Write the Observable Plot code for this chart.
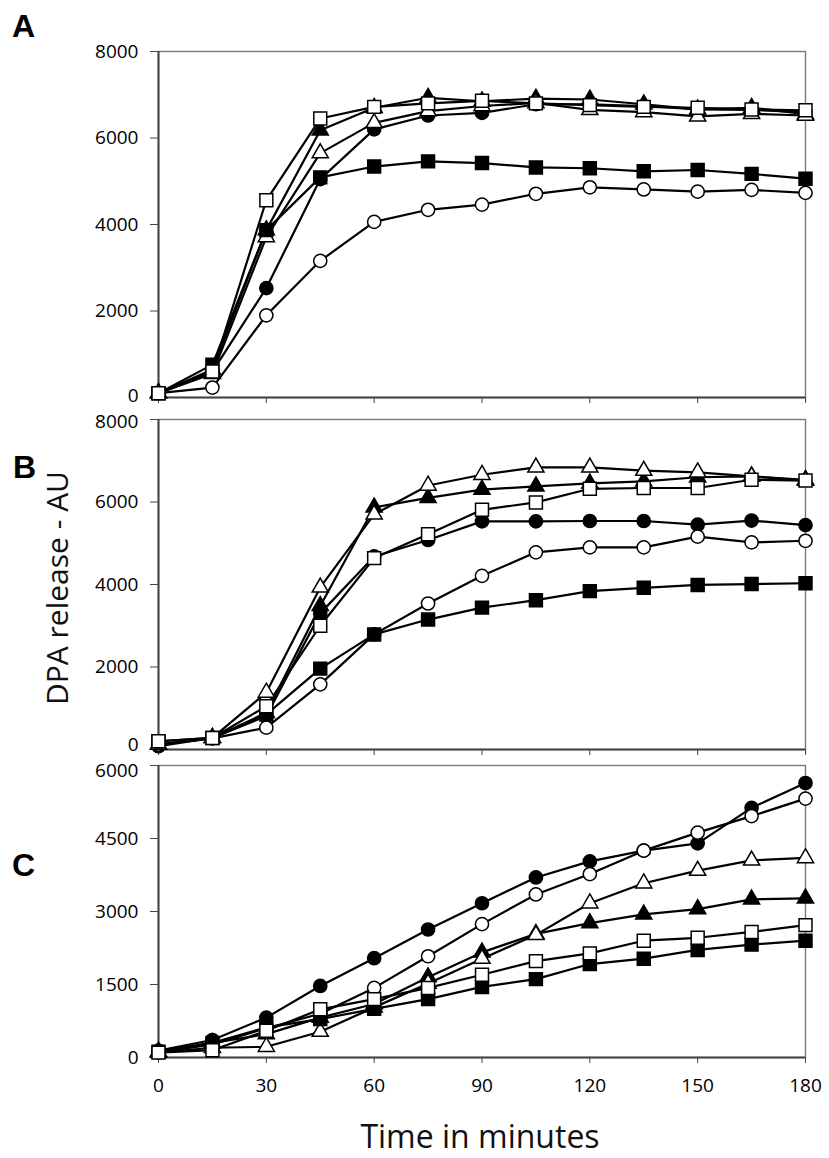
<!DOCTYPE html>
<html>
<head>
<meta charset="utf-8">
<script src="https://cdn.jsdelivr.net/npm/d3@7"></script>
<script src="https://cdn.jsdelivr.net/npm/@observablehq/plot@0.6"></script>
<style>
  html, body { margin: 0; padding: 0; background: #fff; }
  #page { position: relative; width: 829px; height: 1158px; overflow: hidden; }
  #page > svg, #page > figure { position: absolute; left: 0; margin: 0; }
  #overlay { position: absolute; left: 0; top: 0; pointer-events: none; }
</style>
</head>
<body>
<div id="page"></div>
<script>
// ---------- data ----------
const times = [0, 15, 30, 45, 60, 75, 90, 105, 120, 135, 150, 165, 180];
const xTicks = [0, 30, 60, 90, 120, 150, 180];

const A_filledCircle   = [100, 600, 2530, 5050, 6200, 6520, 6580, 6780, 6780, 6740, 6660, 6650, 6600];
const A_openCircle     = [100, 230, 1900, 3160, 4060, 4340, 4460, 4710, 4860, 4810, 4760, 4800, 4730];
const A_filledTriangle = [100, 650, 3870, 6180, 6700, 6930, 6850, 6910, 6890, 6780, 6660, 6700, 6550];
const A_openTriangle   = [100, 550, 3710, 5650, 6350, 6620, 6740, 6810, 6650, 6600, 6500, 6560, 6520];
const A_filledSquare   = [100, 760, 3870, 5090, 5340, 5460, 5420, 5320, 5300, 5230, 5260, 5170, 5060];
const A_openSquare     = [100, 600, 4560, 6450, 6720, 6800, 6860, 6800, 6760, 6720, 6700, 6660, 6640];
const A_yTicks = [0, 2000, 4000, 6000, 8000];

const B_filledCircle   = [80, 280, 810, 3300, 4680, 5080, 5530, 5530, 5540, 5540, 5450, 5550, 5440];
const B_openCircle     = [120, 270, 530, 1580, 2790, 3540, 4210, 4780, 4900, 4900, 5160, 5020, 5060];
const B_filledTriangle = [120, 280, 890, 3480, 5870, 6100, 6300, 6380, 6450, 6500, 6600, 6620, 6540];
const B_openTriangle   = [120, 280, 1380, 3930, 5700, 6400, 6660, 6840, 6840, 6760, 6720, 6620, 6520];
const B_filledSquare   = [200, 280, 850, 1960, 2790, 3150, 3440, 3620, 3840, 3920, 3990, 4010, 4030];
const B_openSquare     = [200, 280, 1050, 3000, 4640, 5220, 5810, 5990, 6320, 6340, 6340, 6540, 6520];
const B_yTicks = [0, 2000, 4000, 6000, 8000];

const C_filledCircle   = [140, 360, 820, 1470, 2040, 2630, 3170, 3700, 4030, 4250, 4400, 5130, 5640];
const C_openCircle     = [100, 270, 600, 900, 1430, 2080, 2740, 3350, 3770, 4250, 4620, 4960, 5320];
const C_filledTriangle = [120, 300, 480, 820, 1100, 1650, 2160, 2540, 2760, 2940, 3050, 3250, 3270];
const C_openTriangle   = [100, 200, 220, 530, 1030, 1520, 2030, 2520, 3170, 3580, 3840, 4050, 4100];
const C_filledSquare   = [120, 300, 620, 790, 1000, 1200, 1450, 1610, 1920, 2030, 2210, 2320, 2400];
const C_openSquare     = [100, 150, 550, 990, 1200, 1430, 1700, 1980, 2140, 2400, 2460, 2580, 2720];
const C_yTicks = [0, 1500, 3000, 4500, 6000];

const panelLetters = ["A", "B", "C"];
const yTitle = "DPA release - AU";
const xTitle = "Time in minutes";

// ---------- build ----------
const seriesDefs = [
  {key: "filledCircle",   symbol: "circle",   fill: "black"},
  {key: "openCircle",     symbol: "circle",   fill: "white"},
  {key: "filledTriangle", symbol: "triangle", fill: "black"},
  {key: "openTriangle",   symbol: "triangle", fill: "white"},
  {key: "filledSquare",   symbol: "square",   fill: "black"},
  {key: "openSquare",     symbol: "square",   fill: "white"}
];
const panelsData = {
  A: {filledCircle: A_filledCircle, openCircle: A_openCircle, filledTriangle: A_filledTriangle, openTriangle: A_openTriangle, filledSquare: A_filledSquare, openSquare: A_openSquare},
  B: {filledCircle: B_filledCircle, openCircle: B_openCircle, filledTriangle: B_filledTriangle, openTriangle: B_openTriangle, filledSquare: B_filledSquare, openSquare: B_openSquare},
  C: {filledCircle: C_filledCircle, openCircle: C_openCircle, filledTriangle: C_filledTriangle, openTriangle: C_openTriangle, filledSquare: C_filledSquare, openSquare: C_openSquare}
};
const symbolR = {circle: 6.6, square: 7.3, triangle: 6.0};
const tickFont = 19;

// nudge: value -> vertical offset of its tick label (keeps stacked labels apart)
function makePanel(name, yTicks, top, height, mTop, mBottom, showXLabels, nudge) {
  const series = panelsData[name];
  const rows = [];
  for (const def of seriesDefs) {
    series[def.key].forEach((v, i) => rows.push({t: times[i], v, s: def.key}));
  }
  const nudged = yTicks.filter(d => nudge && nudge[d] !== undefined);
  const marks = [
    Plot.frame({stroke: "#7a7a7a", strokeWidth: 1.4}),
    Plot.ruleX([0], {stroke: "#444", strokeWidth: 2}),
    Plot.ruleY([yTicks[0]], {stroke: "#444", strokeWidth: 2}),
    Plot.axisY({ticks: yTicks, tickSize: 8, tickPadding: 12,
      tickFormat: d => (nudged.includes(d) ? "" : String(d)),
      label: null, stroke: "#444", fill: "#000", fontSize: tickFont}),
    Plot.axisX({ticks: xTicks, tickSize: 6, tickPadding: 15,
      tickFormat: showXLabels ? (d => String(d)) : (() => ""),
      label: null, stroke: "#444", fill: "#000", fontSize: tickFont})
  ];
  for (const d of nudged) {
    marks.push(Plot.text([d], {x: 0, y: v => v, text: v => String(v), textAnchor: "end",
      dx: -20, dy: nudge[d], fontSize: tickFont, fill: "#000"}));
  }
  marks.push(Plot.line(rows, {x: "t", y: "v", z: "s", stroke: "black", strokeWidth: 2.2}));
  for (const def of seriesDefs) {
    const pts = series[def.key].map((v, i) => ({t: times[i], v}));
    marks.push(Plot.dot(pts, {x: "t", y: "v", symbol: def.symbol, r: symbolR[def.symbol], fill: def.fill, stroke: "black", strokeWidth: 1.5}));
  }
  const chart = Plot.plot({
    width: 829,
    height,
    marginLeft: 158,
    marginRight: 24,
    marginTop: mTop,
    marginBottom: mBottom,
    clip: false,
    style: {fontFamily: "'Open Sans', sans-serif", fontSize: tickFont + "px", color: "#000", background: "transparent", overflow: "visible"},
    x: {domain: [0, 180]},
    y: {domain: [yTicks[0], yTicks[yTicks.length - 1]]},
    marks
  });
  chart.style.top = top + "px";
  chart.style.position = "absolute";
  chart.style.left = "0px";
  chart.style.overflow = "visible";
  return chart;
}

const page = document.getElementById("page");
page.appendChild(makePanel("A", A_yTicks, 0, 410, 51, 13, false, {0: -2}));
page.appendChild(makePanel("B", B_yTicks, 410, 352, 9, 13, false, {0: -5, 8000: 2}));
page.appendChild(makePanel("C", C_yTicks, 755, 360, 10, 58, true, {6000: 5}));

// overlay text (panel letters and axis titles)
const ns = "http://www.w3.org/2000/svg";
const ov = document.createElementNS(ns, "svg");
ov.setAttribute("id", "overlay");
ov.setAttribute("width", 829);
ov.setAttribute("height", 1158);
function addText(str, attrs) {
  const t = document.createElementNS(ns, "text");
  for (const k in attrs) t.setAttribute(k, attrs[k]);
  t.textContent = str;
  ov.appendChild(t);
}
const letterPos = [[12, 37], [13, 478], [12, 876]];
panelLetters.forEach((L, i) => addText(L, {x: letterPos[i][0], y: letterPos[i][1], "font-family": "'Liberation Sans', Arial, sans-serif", "font-weight": "bold", "font-size": 32, fill: "#000"}));
addText(yTitle, {transform: "translate(68,588) rotate(-90)", "text-anchor": "middle", "font-family": "'Open Sans', sans-serif", "font-size": 30, fill: "#111"});
addText(xTitle, {x: 480, y: 1148, "text-anchor": "middle", "font-family": "'Open Sans', sans-serif", "font-size": 32, fill: "#111"});
page.appendChild(ov);
</script>
</body>
</html>
